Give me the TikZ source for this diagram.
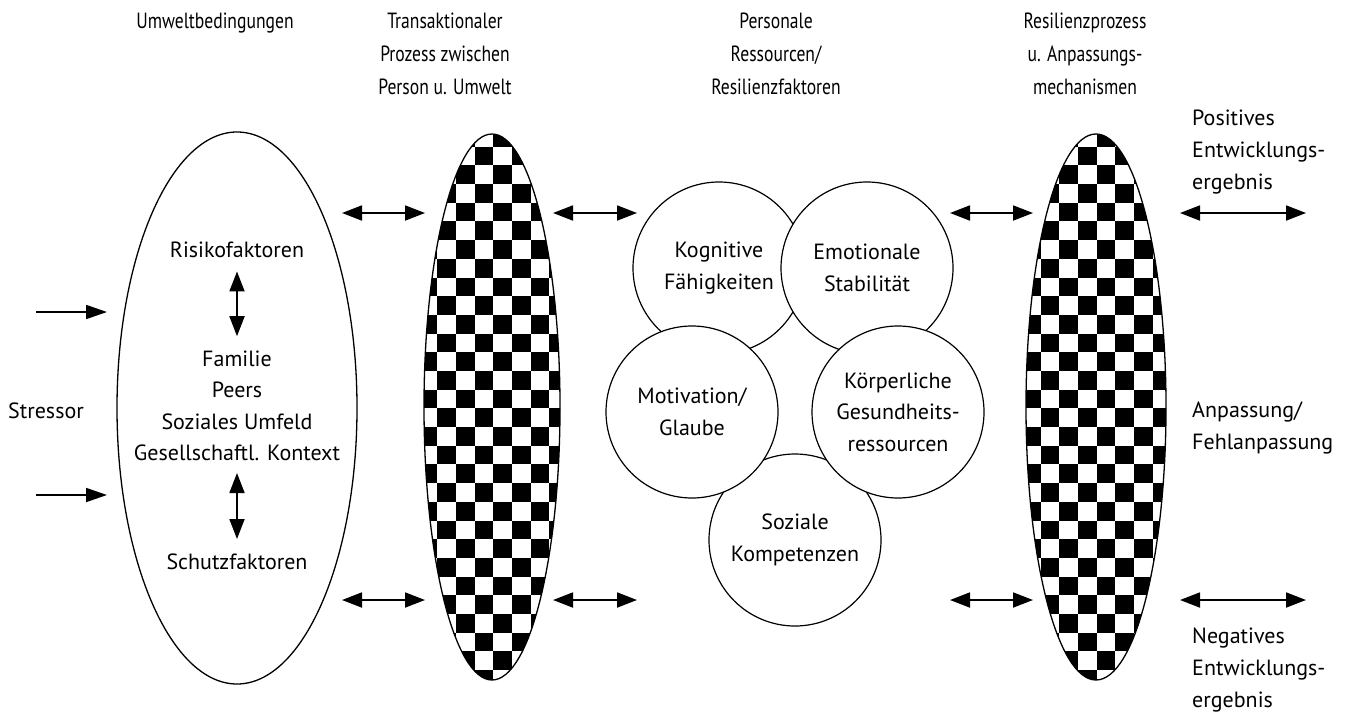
\documentclass[tikz,border=0pt]{standalone}
\usepackage{fontspec}
\setmainfont{PT Sans}
\newfontfamily\headfont[FakeStretch=0.8]{PT Sans}
\usetikzlibrary{arrows.meta,shapes.geometric}
\begin{document}
\begin{tikzpicture}[x=1pt,y=-1pt,
  head/.style={font={\fontsize{22}{33}\headfont}, align=center, inner sep=0pt},
  txt/.style={font=\fontsize{22}{31.5}\selectfont, align=center, inner sep=0pt},
  ltxt/.style={font=\fontsize{22}{32}\selectfont, align=left, inner sep=0pt},
  dbl/.style={line width=1.8pt, {Triangle[length=20pt,width=15pt]}-{Triangle[length=20pt,width=15pt]}},
  sgl/.style={line width=1.8pt, -{Triangle[length=21pt,width=14pt]}},
  shell/.style={ellipse, draw, line width=1.3pt, inner sep=0pt},
  res/.style={circle, draw, fill=white, line width=1.2pt, minimum size=172pt, inner sep=0pt, align=center, font=\fontsize{22}{31.5}\selectfont},
]
\useasboundingbox (0,0) rectangle (1351,712);

% headers (anchor base = last line)
\node[head, anchor=base] (h1) at (215,28.5) {Umweltbedingungen};
\node[head, anchor=base] (h2) at (445,94.5) {Transaktionaler\\Prozess zwischen\\Person u. Umwelt};
\node[head, anchor=base] (h3) at (776,94.5) {Personale\\Ressourcen/\\Resilienzfaktoren};
\node[head, anchor=base] (h4) at (1085,94.5) {Resilienzprozess\\u. Anpassungs-\\mechanismen};

% checkerboards
\begin{scope}
  \clip (492,407) ellipse [x radius=68, y radius=273];
  \foreach \k in {-1,...,29}{
    \foreach \j in {-4,...,3}{
      \pgfmathtruncatemacro\pp{mod(\j+\k+100,2)}
      \ifnum\pp=1 \fill (493.3+\j*18.69,146.7+\k*18.69) rectangle ++(18.69,18.69);\fi
    }
  }
\end{scope}
\begin{scope}
  \clip (1096,407) ellipse [x radius=70, y radius=273];
  \foreach \k in {-1,...,29}{
    \foreach \j in {-4,...,3}{
      \pgfmathtruncatemacro\pp{mod(\j+\k+100,2)}
      \ifnum\pp=1 \fill (1096.7+\j*18.69,146.7+\k*18.69) rectangle ++(18.69,18.69);\fi
    }
  }
\end{scope}

% ellipses
\node[shell, minimum width=240pt, minimum height=552pt] (env) at (237,408) {};
\node[shell, minimum width=136pt, minimum height=546pt] (trans) at (492,407) {};
\node[shell, minimum width=140pt, minimum height=546pt] (resil) at (1096,407) {};

% texts in environment ellipse
\node[txt, anchor=base] (risk) at (237,257) {Risikofaktoren};
\node[txt, anchor=base] (ctx) at (237,460.5) {Familie\\Peers\\Soziales Umfeld\\Gesellschaftl. Kontext};
\node[txt, anchor=base] (prot) at (237,569) {Schutzfaktoren};
\draw[dbl, shorten <=14pt, shorten >=14pt] (risk.south) -- (risk.south |- ctx.north);
\coordinate (v2a) at (237,473);
\coordinate (v2b) at (237,539);
\draw[dbl] (v2a) -- (v2b);

% stressor
\node[txt, anchor=base west] (stressor) at (8,418) {Stressor};
\coordinate (s1a) at (36,312); \coordinate (s1b) at (107,312);
\coordinate (s2a) at (36,495); \coordinate (s2b) at (107,495);
\draw[sgl] (s1a) -- (s1b);
\draw[sgl] (s2a) -- (s2b);

% resource circles
\node[res] (soz) at (795,540) {Soziale\\Kompetenzen};
\node[res] (kog) at (719,268) {Kognitive\\Fähigkeiten};
\node[res] (emo) at (867,268) {Emotionale\\Stabilität};
\node[res] (mot) at (692,412) {Motivation/\\Glaube};
\node[res] (koe) at (898,412) {Körperliche\\Gesundheits-\\ressourcen};

% horizontal double arrows
\foreach \n/\xa/\xb in {a/342/425, b/553/637, c/950/1033, d/1180/1306}{
  \coordinate (\n t1) at (\xa,213); \coordinate (\n t2) at (\xb,213);
  \coordinate (\n b1) at (\xa,600); \coordinate (\n b2) at (\xb,600);
  \draw[dbl] (\n t1) -- (\n t2);
  \draw[dbl] (\n b1) -- (\n b2);
}

% outcome labels (anchor base = last line)
\node[ltxt, anchor=base west] (pos) at (1192,189) {Positives\\Entwicklungs-\\ergebnis};
\node[ltxt, anchor=base west] (adapt) at (1192,449) {Anpassung/\\Fehlanpassung};
\node[ltxt, anchor=base west] (neg) at (1192,707) {Negatives\\Entwicklungs-\\ergebnis};
\end{tikzpicture}
\end{document}
